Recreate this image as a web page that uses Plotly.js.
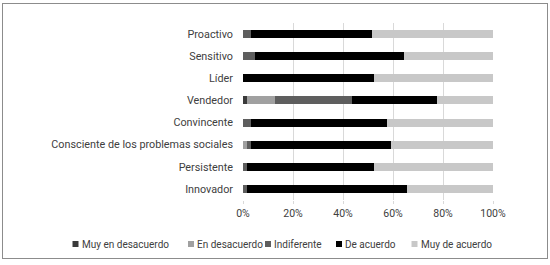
<!DOCTYPE html>
<html><head><meta charset="utf-8">
<script src="https://cdn.plot.ly/plotly-3.0.1.min.js"></script>
<style>
body{margin:0;background:#fff;}
#wrap{position:relative;width:550px;height:265px;}
#chart{width:550px;height:265px;}
#frame{position:absolute;left:2px;top:3px;width:544px;height:254px;border:1px solid #8c8c8c;pointer-events:none;}
</style></head>
<body><div id="wrap"><div id="chart"></div><div id="frame"></div></div>
<script>
const categories = ["Proactivo","Sensitivo","Líder","Vendedor","Convincente","Consciente de los problemas sociales","Persistente","Innovador"];
const seriesNames = ["Muy en desacuerdo","En desacuerdo","Indiferente","De acuerdo","Muy de acuerdo"];
const muyEnDesacuerdo = [0, 0, 0, 1.6, 0, 0, 0, 0];
const enDesacuerdo    = [0, 0, 0, 11.3, 0, 1.6, 0, 0];
const indiferente     = [3.2, 4.8, 0, 30.6, 3.2, 1.6, 1.6, 1.6];
const deAcuerdo       = [48.4, 59.7, 52.4, 33.9, 54.4, 55.8, 50.8, 64.1];
const muyDeAcuerdo    = [48.4, 35.5, 47.6, 22.6, 42.4, 41.0, 47.6, 34.3];
const tickVals = [0, 20, 40, 60, 80, 100];
const tickText = ["0%","20%","40%","60%","80%","100%"];

const values = [muyEnDesacuerdo, enDesacuerdo, indiferente, deAcuerdo, muyDeAcuerdo];
const colors = ["#3a3a3a","#a0a0a0","#5e5e5e","#000000","#c8c8c8"];
const font = "Roboto, Arial, sans-serif";
const txtColor = "#404040";

// plot-area geometry (px)
const M = {l:243, r:57, t:23, b:65};
const W = 550, H = 265;
const pw = W - M.l - M.r, ph = H - M.t - M.b;
const px2x = p => (p - M.l) / pw;
const py2y = p => (H - M.b - p) / ph;

// custom legend placement (px): left edge of each swatch
const legendLeft = [72.5, 188, 265, 336, 411.5];
const legendY = 244, sw = 6, textOff = 8;

const traces = values.map((v,i)=>({
  type:"bar", orientation:"h", name:seriesNames[i],
  y:categories, x:v, marker:{color:colors[i], line:{width:0}},
  showlegend:false, hoverinfo:"x+y+name"
}));

const shapes = seriesNames.map((n,i)=>({
  type:"rect", xref:"paper", yref:"paper",
  x0:px2x(legendLeft[i]), x1:px2x(legendLeft[i]+sw),
  y0:py2y(legendY+sw/2), y1:py2y(legendY-sw/2),
  fillcolor:colors[i], line:{width:0}
}));
const annotations = seriesNames.map((n,i)=>({
  xref:"paper", yref:"paper", x:px2x(legendLeft[i]+textOff), y:py2y(legendY),
  xanchor:"left", yanchor:"middle", text:n, showarrow:false,
  font:{family:font, size:10, color:txtColor}, borderpad:0
}));

const layout = {
  width:W, height:H,
  margin:{l:M.l, r:M.r, t:M.t, b:M.b, autoexpand:false},
  barmode:"stack", bargap:0.64,
  paper_bgcolor:"#fff", plot_bgcolor:"#fff",
  font:{family:font, size:11, color:txtColor},
  xaxis:{range:[0,100], tickvals:tickVals, ticktext:tickText, showgrid:true, gridcolor:"#d9d9d9", gridwidth:1,
         zeroline:false, showline:false, ticks:"outside", ticklen:3, tickcolor:"#d9d9d9",
         tickfont:{family:font, size:10.5, color:txtColor}, fixedrange:true},
  yaxis:{type:"category", autorange:"reversed", showgrid:false, zeroline:false, showline:false,
         ticks:"", ticklabelstandoff:9, tickfont:{family:font, size:10.8, color:txtColor}, fixedrange:true},
  shapes:shapes, annotations:annotations,
  showlegend:false
};
Plotly.newPlot("chart", traces, layout, {displayModeBar:false, staticPlot:true});
</script></body></html>
